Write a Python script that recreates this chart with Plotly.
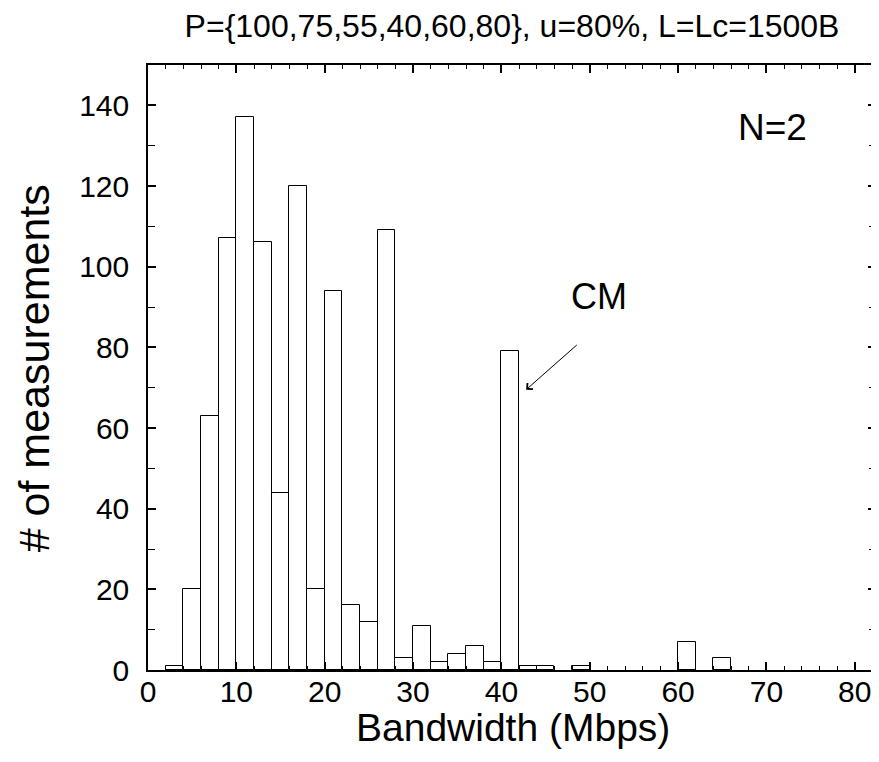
import plotly.graph_objects as go

# histogram bins (left edge, Mbps) and counts
bin_left = [2, 4, 6, 8, 10, 12, 14, 16, 18, 20, 22, 24, 26, 28, 30, 32, 34, 36, 38, 40, 42, 44, 48, 60, 64]
counts = [1, 20, 63, 107, 137, 106, 44, 120, 20, 94, 16, 12, 109, 3, 11, 2, 4, 6, 2, 79, 1, 1, 1, 7, 3]
bin_width = 2

title_text = "P={100,75,55,40,60,80}, u=80%, L=Lc=1500B"
x_title = "Bandwidth (Mbps)"
y_title = "# of measurements"
x_ticks = [0, 10, 20, 30, 40, 50, 60, 70, 80]
y_ticks = [0, 20, 40, 60, 80, 100, 120, 140]

FONT = "Liberation Sans, Arial, sans-serif"

# page body adds an 8px margin; the figure is sized to fit the 879x762 window
W, H = 871, 754
ML, MR, MT, MB = 140, 1, 57, 92
PW, PH = W - ML - MR, H - MT - MB

fig = go.Figure()
fig.add_trace(go.Bar(
    x=bin_left, y=counts, width=[bin_width] * len(bin_left), offset=0,
    marker=dict(color="white", line=dict(color="black", width=1)),
    showlegend=False,
))

axis_common = dict(
    showline=True, linecolor="black", linewidth=1.5, mirror="allticks",
    ticks="inside", tickcolor="black", showgrid=False, zeroline=False,
    tickfont=dict(family=FONT, size=30, color="black"),
)

fig.update_xaxes(
    range=[0, 82.4], tickvals=x_ticks, ticklen=8, tickwidth=1.5,
    minor=dict(dtick=2, tick0=0, ticklen=4, ticks="inside", tickcolor="black", tickwidth=1),
    ticklabelstandoff=-6,
    **axis_common,
)
fig.update_yaxes(
    range=[0, 150], tickvals=y_ticks, ticklen=8, tickwidth=1.5,
    minor=dict(dtick=10, tick0=0, ticklen=7, ticks="inside", tickcolor="black", tickwidth=1),
    ticklabelstandoff=11,
    **axis_common,
)

# axis titles as annotations (positions in page pixels relative to plot area)
fig.add_annotation(x=(514.5 - 148) / PW, y=(670 - 727) / PH, xref="paper", yref="paper",
                   text=x_title, showarrow=False, xanchor="center", yanchor="middle",
                   font=dict(family=FONT, size=39, color="black"))
fig.add_annotation(x=(34 - 148) / PW, y=(670 - 368) / PH, xref="paper", yref="paper",
                   text=y_title, showarrow=False, textangle=-90, xanchor="center", yanchor="middle",
                   font=dict(family=FONT, size=43, color="black"))

fig.add_annotation(x=(774.5 - 148) / PW, y=(670 - 127.5) / PH, xref="paper", yref="paper", text="N=2",
                   showarrow=False, xanchor="center", yanchor="middle",
                   font=dict(family=FONT, size=37, color="black"))
fig.add_annotation(x=42.8, y=69.5, ax=48.7, ay=80.9, xref="x", yref="y", axref="x", ayref="y",
                   text="", showarrow=True, arrowhead=4, arrowsize=1.6, arrowwidth=1, arrowcolor="black")
fig.add_annotation(x=51.0, y=92.7, xref="x", yref="y", text="CM", showarrow=False,
                   font=dict(family=FONT, size=36, color="black"))

fig.update_layout(
    width=W, height=H,
    margin=dict(l=ML, r=MR, t=MT, b=MB),
    paper_bgcolor="white", plot_bgcolor="white",
    bargap=0,
    title=dict(text=title_text, x=(512 - 8) / W, xanchor="center", y=1 - 7 / H, yanchor="top",
               font=dict(family=FONT, size=32, color="black")),
)

fig.write_html("out.html")
